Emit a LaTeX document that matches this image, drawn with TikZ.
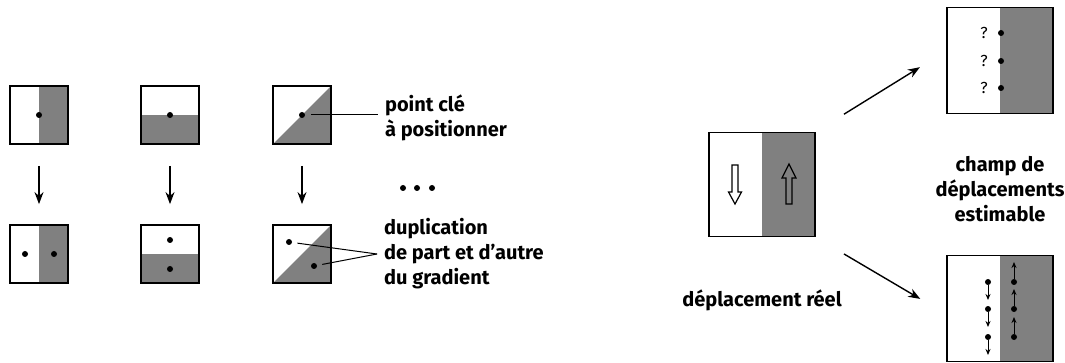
\documentclass[tikz,border=0pt]{standalone}
\usepackage{fontspec}
\setmainfont{Fira Sans}
\usetikzlibrary{arrows.meta}

\begin{document}
\begin{tikzpicture}[x=0.5pt,y=-0.5pt,
box/.style={draw,line width=0.9pt,inner sep=0pt,minimum size=29pt},
vsplit/.style={path picture={\fill[gray] (path picture bounding box.north) rectangle (path picture bounding box.south east);}},
hsplit/.style={path picture={\fill[gray] (path picture bounding box.west) rectangle (path picture bounding box.south east);}},
dsplit/.style={path picture={\fill[gray] (path picture bounding box.south west) -- (path picture bounding box.north east) -- (path picture bounding box.south east) -- cycle;}},
pt/.style={circle,fill,inner sep=0pt,minimum size=3pt},
lbl/.style={font=\fontsize{10}{12.5}\selectfont\bfseries,align=left},
tip/.style={line width=0.7pt,-{Stealth[length=6pt,width=4.5pt]}},
small/.style={line width=0.5pt,-{Stealth[length=3pt,width=2.5pt]}}
]
\useasboundingbox (0,0) rectangle (1065,363);
\node[box,vsplit] (a1) at (39,115) {};
\node[box,hsplit] (b1) at (170,115) {};
\node[box,dsplit] (c1) at (302,115) {};
\node[box,vsplit] (a2) at (39,254) {};
\node[box,hsplit] (b2) at (170,254) {};
\node[box,dsplit] (c2) at (302,254) {};
\foreach \n in {a,b,c}
  \draw[tip,shorten <=10.5pt,shorten >=10pt] (\n1) -- (\n2);
\node[pt] (a1p) at (a1) {};
\node[pt] (b1p) at (b1) {};
\node[pt] (c1p) at (c1) {};
\node[pt] (a2l) at (25,254) {};
\node[pt] (a2r) at (54,254) {};
\node[pt] (b2u) at (170,240) {};
\node[pt] (b2d) at (170,269) {};
\node[pt] (c2u) at (289,242) {};
\node[pt] (c2d) at (314,266) {};
\foreach \x [count=\i] in {403,417,432}
  \node[pt] (etc\i) at (\x,188) {};
\node[lbl,anchor=west] (key) at (378,118) {point clé\\à positionner};
\draw[line width=0.5pt,shorten <=3pt] (c1p) -- (c1p -| key.west);
\node[lbl,anchor=west] (dup) at (377,254) {duplication\\de part et d'autre\\du gradient};
\draw[line width=0.5pt,shorten <=2.5pt] (c2u) -- (dup.west);
\draw[line width=0.5pt,shorten <=2.5pt] (c2d) -- (dup.west);

\node[box,vsplit,minimum width=53pt,minimum height=52pt] (mid) at (762,184.5) {};
\node[box,vsplit,minimum width=53pt,minimum height=53pt] (tr) at (1000,60.5) {};
\node[box,vsplit,minimum width=53pt,minimum height=53pt] (br) at (1000,308.5) {};
\draw[line width=0.6pt] (732,165) -- (738,165) -- (738,192) -- (741.5,192) -- (735,204) -- (728.5,192) -- (732,192) -- cycle;
\draw[line width=0.6pt] (786,204) -- (792,204) -- (792,178) -- (796,178) -- (789,164) -- (782,178) -- (786,178) -- cycle;
\draw[tip,shorten <=16.5pt,shorten >=15.4pt] (mid.north east) -- (tr.170);
\draw[tip,shorten <=16.3pt,shorten >=15pt] (mid.south east) -- (br.186);
\foreach \y [count=\i] in {33,61,88} {
  \node[pt] (q\i) at (1001,\y) {};
  \node[anchor=east,font=\fontsize{8}{9}\selectfont,inner sep=0pt] (qm\i) at (988,\y) {?};
}
\foreach \y [count=\i] in {282,309,337} {
  \node[pt] (dn\i) at (988,\y) {};
  \node[pt] (up\i) at (1014,\y) {};
  \coordinate (dne\i) at (988,\y+18);
  \coordinate (upe\i) at (1014,\y-20);
  \draw[small] (dn\i) -- (dne\i);
  \draw[small] (up\i) -- (upe\i);
}
\node[lbl,align=center] (field) at (1000,189) {champ de\\déplacements\\estimable};
\node[lbl] (real) at (762,300) {déplacement réel};
\end{tikzpicture}
\end{document}
